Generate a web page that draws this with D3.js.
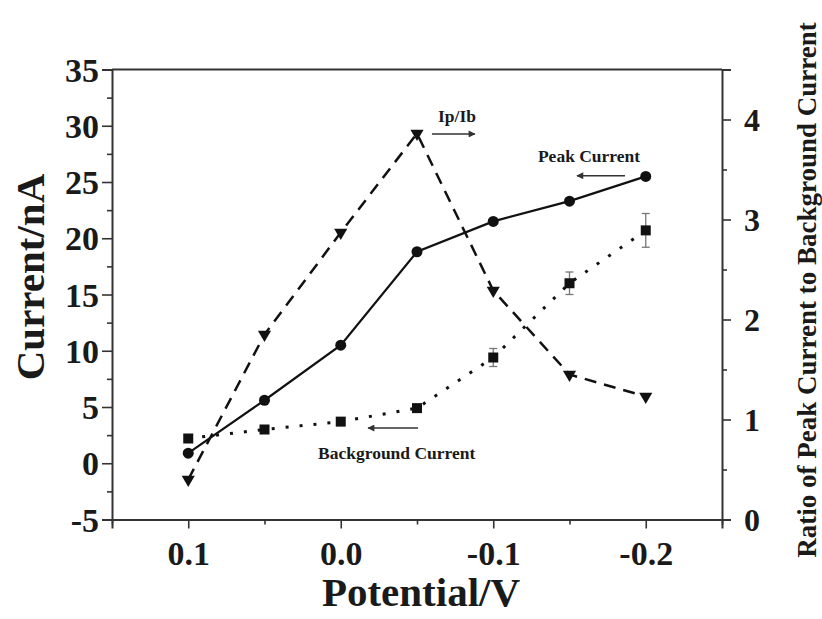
<!DOCTYPE html>
<html>
<head>
  <meta charset="utf8">
  <title>Current vs Potential</title>
  <style type="text/css">
    body { margin: 0; background: #fff; }
    svg text { font-family: "Liberation Serif", "Times New Roman", serif; font-weight: bold; fill: #1a1a1a; }
    .axis path, .axis line { stroke: #333; }
    .axis path { stroke-width: 2; }
    .axis line { stroke-width: 1.6; }
  </style>
</head>
<body>
<script src="https://cdnjs.cloudflare.com/ajax/libs/d3/7.8.5/d3.min.js"></script>
<script type="text/javascript">
var width = 822, height = 619;

// data
var potential = [0.1, 0.05, 0.0, -0.05, -0.1, -0.15, -0.2];
var peakCurrent = [0.9, 5.6, 10.5, 18.8, 21.5, 23.3, 25.5];
var backgroundCurrent = [2.2, 3.0, 3.7, 4.9, 9.4, 16.0, 20.7];
var backgroundError = [0.2, 0.2, 0.2, 0.3, 0.8, 1.0, 1.5];
var ratio = [0.4, 1.85, 2.87, 3.86, 2.29, 1.45, 1.23];

var xTicks = [0.1, 0.0, -0.1, -0.2];
var xTickLabels = ['0.1', '0.0', '-0.1', '-0.2'];
var xMinor = [0.15, 0.05, -0.05, -0.15, -0.25];
var yLeftTicks = [-5, 0, 5, 10, 15, 20, 25, 30, 35];
var yLeftMinor = [-2.5, 2.5, 7.5, 12.5, 17.5, 22.5, 27.5, 32.5];
var yRightTicks = [0, 1, 2, 3, 4];
var yRightMinor = [0.5, 1.5, 2.5, 3.5];

var plotL = 112, plotR = 722, plotT = 69.5, plotB = 519.5;

var x = d3.scaleLinear().domain([0.15, -0.25]).range([plotL, plotR]);
var yL = d3.scaleLinear().domain([-5, 35]).range([plotB, plotT]);
var yR = d3.scaleLinear().domain([0, 4.5]).range([plotB, plotT]);

var svg = d3.select('body').append('svg')
    .attr('width', width)
    .attr('height', height);

var defs = svg.append('defs');
defs.append('marker')
    .attr('id', 'arrow')
    .attr('viewBox', '0 0 10 10')
    .attr('refX', 9).attr('refY', 5)
    .attr('markerWidth', 10).attr('markerHeight', 7)
    .attr('markerUnits', 'userSpaceOnUse')
    .attr('orient', 'auto')
  .append('path')
    .attr('d', 'M0,0 L10,5 L0,10 Z')
    .style('fill', '#333');

// plain hyphen for negatives, like the original figure
var plain = function(d) { return String(d); };

// axes
var gx = svg.append('g').attr('class', 'axis')
    .attr('transform', 'translate(0,' + plotB + ')')
    .call(d3.axisBottom(x).tickValues(xTicks).tickSize(9).tickPadding(12)
      .tickFormat(function(d, i) { return xTickLabels[i]; }));
gx.selectAll('text').style('font-size', '34px').attr('dy', '0.71em');
svg.append('g').attr('class', 'axis')
    .attr('transform', 'translate(0,' + plotB + ')')
    .call(d3.axisBottom(x).tickValues(xMinor).tickSize(5).tickFormat(''))
    .select('path').remove();

var gl = svg.append('g').attr('class', 'axis')
    .attr('transform', 'translate(' + plotL + ',0)')
    .call(d3.axisLeft(yL).tickValues(yLeftTicks).tickSize(10).tickPadding(3).tickFormat(plain));
gl.selectAll('text').style('font-size', '34px').attr('dy', '0.34em');
svg.append('g').attr('class', 'axis')
    .attr('transform', 'translate(' + plotL + ',0)')
    .call(d3.axisLeft(yL).tickValues(yLeftMinor).tickSize(5).tickFormat(''))
    .select('path').remove();

var gr = svg.append('g').attr('class', 'axis')
    .attr('transform', 'translate(' + plotR + ',0)')
    .call(d3.axisRight(yR).tickValues(yRightTicks).tickSize(9).tickPadding(13).tickFormat(plain));
gr.selectAll('text').style('font-size', '32px').attr('dy', '0.34em');
svg.append('g').attr('class', 'axis')
    .attr('transform', 'translate(' + plotR + ',0)')
    .call(d3.axisRight(yR).tickValues(yRightMinor).tickSize(5).tickFormat(''))
    .select('path').remove();

// top frame line
svg.append('line')
    .attr('x1', plotL).attr('x2', plotR)
    .attr('y1', plotT).attr('y2', plotT)
    .style('stroke', '#333').style('stroke-width', 2);

// axis titles
svg.append('text')
    .attr('transform', 'translate(44,277) rotate(-90)')
    .attr('text-anchor', 'middle')
    .style('font-size', '41px')
    .text('Current/nA');

svg.append('text')
    .attr('x', 421).attr('y', 606)
    .attr('text-anchor', 'middle')
    .style('font-size', '41px')
    .text('Potential/V');

svg.append('text')
    .attr('transform', 'translate(816,290) rotate(-90)')
    .attr('text-anchor', 'middle')
    .style('font-size', '27px')
    .text('Ratio of Peak Current to Background Current');

var idx = d3.range(potential.length);

// ratio (dashed, right axis)
svg.append('path')
    .datum(idx)
    .attr('d', d3.line().x(function(i) { return x(potential[i]); }).y(function(i) { return yR(ratio[i]); }))
    .style('fill', 'none').style('stroke', '#111')
    .style('stroke-width', 2.5).style('stroke-dasharray', '12,8');

// background current (dotted)
svg.append('path')
    .datum(idx)
    .attr('d', d3.line().x(function(i) { return x(potential[i]); }).y(function(i) { return yL(backgroundCurrent[i]); }))
    .style('fill', 'none').style('stroke', '#111')
    .style('stroke-width', 3).style('stroke-dasharray', '3,11');

// peak current (solid)
svg.append('path')
    .datum(idx)
    .attr('d', d3.line().x(function(i) { return x(potential[i]); }).y(function(i) { return yL(peakCurrent[i]); }))
    .style('fill', 'none').style('stroke', '#111')
    .style('stroke-width', 2.2);

// error bars
var eb = svg.append('g').selectAll('g').data(idx).enter().append('g')
    .style('stroke', '#777').style('stroke-width', 1.3);
eb.append('line')
    .attr('x1', function(i) { return x(potential[i]); })
    .attr('x2', function(i) { return x(potential[i]); })
    .attr('y1', function(i) { return yL(backgroundCurrent[i] - backgroundError[i]); })
    .attr('y2', function(i) { return yL(backgroundCurrent[i] + backgroundError[i]); });
eb.append('line')
    .attr('x1', function(i) { return x(potential[i]) - 4; })
    .attr('x2', function(i) { return x(potential[i]) + 4; })
    .attr('y1', function(i) { return yL(backgroundCurrent[i] - backgroundError[i]); })
    .attr('y2', function(i) { return yL(backgroundCurrent[i] - backgroundError[i]); });
eb.append('line')
    .attr('x1', function(i) { return x(potential[i]) - 4; })
    .attr('x2', function(i) { return x(potential[i]) + 4; })
    .attr('y1', function(i) { return yL(backgroundCurrent[i] + backgroundError[i]); })
    .attr('y2', function(i) { return yL(backgroundCurrent[i] + backgroundError[i]); });

// markers
svg.append('g').selectAll('rect').data(idx).enter().append('rect')
    .attr('x', function(i) { return x(potential[i]) - 5; })
    .attr('y', function(i) { return yL(backgroundCurrent[i]) - 5; })
    .attr('width', 10).attr('height', 10)
    .style('fill', '#111');

svg.append('g').selectAll('circle').data(idx).enter().append('circle')
    .attr('cx', function(i) { return x(potential[i]); })
    .attr('cy', function(i) { return yL(peakCurrent[i]); })
    .attr('r', 5.5)
    .style('fill', '#111');

var tri = d3.symbol().type(d3.symbolTriangle).size(75);
svg.append('g').selectAll('path').data(idx).enter().append('path')
    .attr('d', tri)
    .attr('transform', function(i) { return 'translate(' + x(potential[i]) + ',' + yR(ratio[i]) + ') rotate(180)'; })
    .style('fill', '#111');

// annotations, positioned in data units
var notes = [
  { text: 'Ip/Ib', x: -0.0638, y: 30.3 },
  { text: 'Peak Current', x: -0.1293, y: 26.8 },
  { text: 'Background Current', x: 0.0149, y: 0.38 }
];
var arrows = [
  { x1: -0.0598, x2: -0.088, y: 29.27 },
  { x1: -0.1864, x2: -0.1549, y: 25.56 },
  { x1: -0.0507, x2: -0.0179, y: 3.13 }
];

svg.append('g').selectAll('text').data(notes).enter().append('text')
    .attr('x', function(d) { return x(d.x); })
    .attr('y', function(d) { return yL(d.y); })
    .style('font-size', '17.5px')
    .text(function(d) { return d.text; });

svg.append('g').selectAll('line').data(arrows).enter().append('line')
    .attr('x1', function(d) { return x(d.x1); })
    .attr('x2', function(d) { return x(d.x2); })
    .attr('y1', function(d) { return yL(d.y); })
    .attr('y2', function(d) { return yL(d.y); })
    .attr('marker-end', 'url(#arrow)')
    .style('stroke', '#333').style('stroke-width', 1.5);
</script>
</body>
</html>
